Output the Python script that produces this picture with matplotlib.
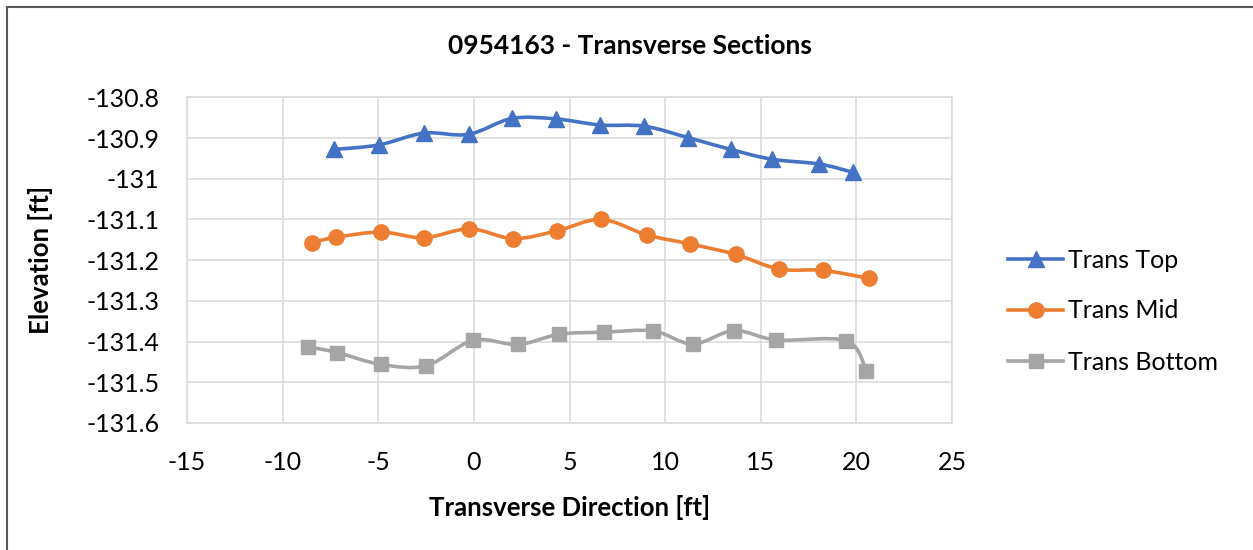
import matplotlib
matplotlib.use("Agg")
from matplotlib import pyplot as plt
from matplotlib.path import Path
from matplotlib.patches import PathPatch
from matplotlib.lines import Line2D

# data
top_x = [-7.29, -4.97, -2.62, -0.28, 1.99, 4.28, 6.6, 8.91, 11.2, 13.42, 15.57, 18.07, 19.8]
top_y = [-130.928, -130.917, -130.888, -130.891, -130.852, -130.853, -130.868,
         -130.871, -130.899, -130.928, -130.952, -130.964, -130.984]

mid_x = [-8.49, -7.22, -4.86, -2.61, -0.23, 2.06, 4.35, 6.66, 9.04, 11.29, 13.69, 15.96, 18.23, 20.68]
mid_y = [-131.157, -131.144, -131.131, -131.145, -131.123, -131.147, -131.128,
         -131.100, -131.138, -131.160, -131.186, -131.222, -131.225, -131.245]

bot_x = [-8.65, -7.15, -4.86, -2.48, -0.03, 2.31, 4.47, 6.78, 9.37, 11.45, 13.6, 15.82, 19.47, 20.52]
bot_y = [-131.413, -131.427, -131.456, -131.459, -131.397, -131.407, -131.382,
         -131.377, -131.374, -131.406, -131.373, -131.396, -131.398, -131.472]

series_names = ["Trans Top", "Trans Mid", "Trans Bottom"]
colors = ["#4472C4", "#ED7D31", "#A5A5A5"]
markers = ["^", "o", "s"]
msizes = [11, 11, 9.5]

x_ticks = [-15, -10, -5, 0, 5, 10, 15, 20, 25]
y_ticks = [-130.8, -130.9, -131, -131.1, -131.2, -131.3, -131.4, -131.5, -131.6]
y_tick_labels = ["-130.8", "-130.9", "-131", "-131.1", "-131.2", "-131.3", "-131.4", "-131.5", "-131.6"]

plt.rcParams["font.family"] = ["Lato", "DejaVu Sans"]
plt.rcParams["axes.unicode_minus"] = False


def smooth_path(xs, ys):
    # excel style smoothed line: cubic bezier segments through each point
    pts = list(zip(xs, ys))
    verts = [pts[0]]
    codes = [Path.MOVETO]
    n = len(pts)
    for i in range(n - 1):
        p0 = pts[i - 1] if i > 0 else pts[i]
        p1 = pts[i]
        p2 = pts[i + 1]
        p3 = pts[i + 2] if i + 2 < n else pts[i + 1]
        c1 = (p1[0] + (p2[0] - p0[0]) / 6, p1[1] + (p2[1] - p0[1]) / 6)
        c2 = (p2[0] - (p3[0] - p1[0]) / 6, p2[1] - (p3[1] - p1[1]) / 6)
        verts += [c1, c2, p2]
        codes += [Path.CURVE4] * 3
    return Path(verts, codes)


fig = plt.figure(figsize=(12.53, 5.5), dpi=100)
ax = fig.add_axes([187 / 1253, 1 - 423 / 550, (952 - 187) / 1253, (423 - 97.3) / 550])

all_x = [top_x, mid_x, bot_x]
all_y = [top_y, mid_y, bot_y]
handles = []
for xs, ys, name, c, m, ms in zip(all_x, all_y, series_names, colors, markers, msizes):
    ax.add_patch(PathPatch(smooth_path(xs, ys), facecolor="none", edgecolor=c,
                           lw=2.6, zorder=3, capstyle="round", joinstyle="round"))
    ax.plot(xs, ys, ls="none", marker=m, ms=ms, color=c, zorder=4)
    handles.append(Line2D([], [], color=c, lw=2.6, marker=m, ms=ms, label=name))

ax.set_xlim(-15, 25)
ax.set_ylim(-131.6, -130.8)
ax.set_xticks(x_ticks)
ax.set_yticks(y_ticks)
ax.set_yticklabels(y_tick_labels)
ax.grid(True, color="#D9D9D9", lw=1.1, zorder=0)
ax.set_axisbelow(True)
for s in ax.spines.values():
    s.set_color("#D9D9D9")
    s.set_linewidth(1.1)
ax.tick_params(length=0, labelsize=18, colors="black")
ax.tick_params(axis="y", pad=20)
ax.tick_params(axis="x", pad=20)

ax.set_xlabel("Transverse Direction [ft]", fontsize=18.5, fontweight="bold", labelpad=15)
ax.set_ylabel("Elevation [ft]", fontsize=18.5, fontweight="bold", labelpad=24)

fig.text(630 / 1253, 1 - 46 / 550, "0954163 - Transverse Sections", fontsize=19,
         fontweight="bold", ha="center", va="center")

fig.legend(handles=handles, loc="center left", bbox_to_anchor=(1008 / 1253, 1 - 311 / 550),
           frameon=False, fontsize=18, handlelength=2.2, handletextpad=0.2,
           labelspacing=1.12, borderpad=0, borderaxespad=0)

# chart border (only left and top visible in the crop)
fig.add_artist(Line2D([7 / 1253, 7 / 1253], [0, 1 - 7 / 550], color="#595959", lw=1.5))
fig.add_artist(Line2D([7 / 1253, 1], [1 - 7 / 550, 1 - 7 / 550], color="#595959", lw=1.5))

fig.savefig("out.png", dpi=100)
